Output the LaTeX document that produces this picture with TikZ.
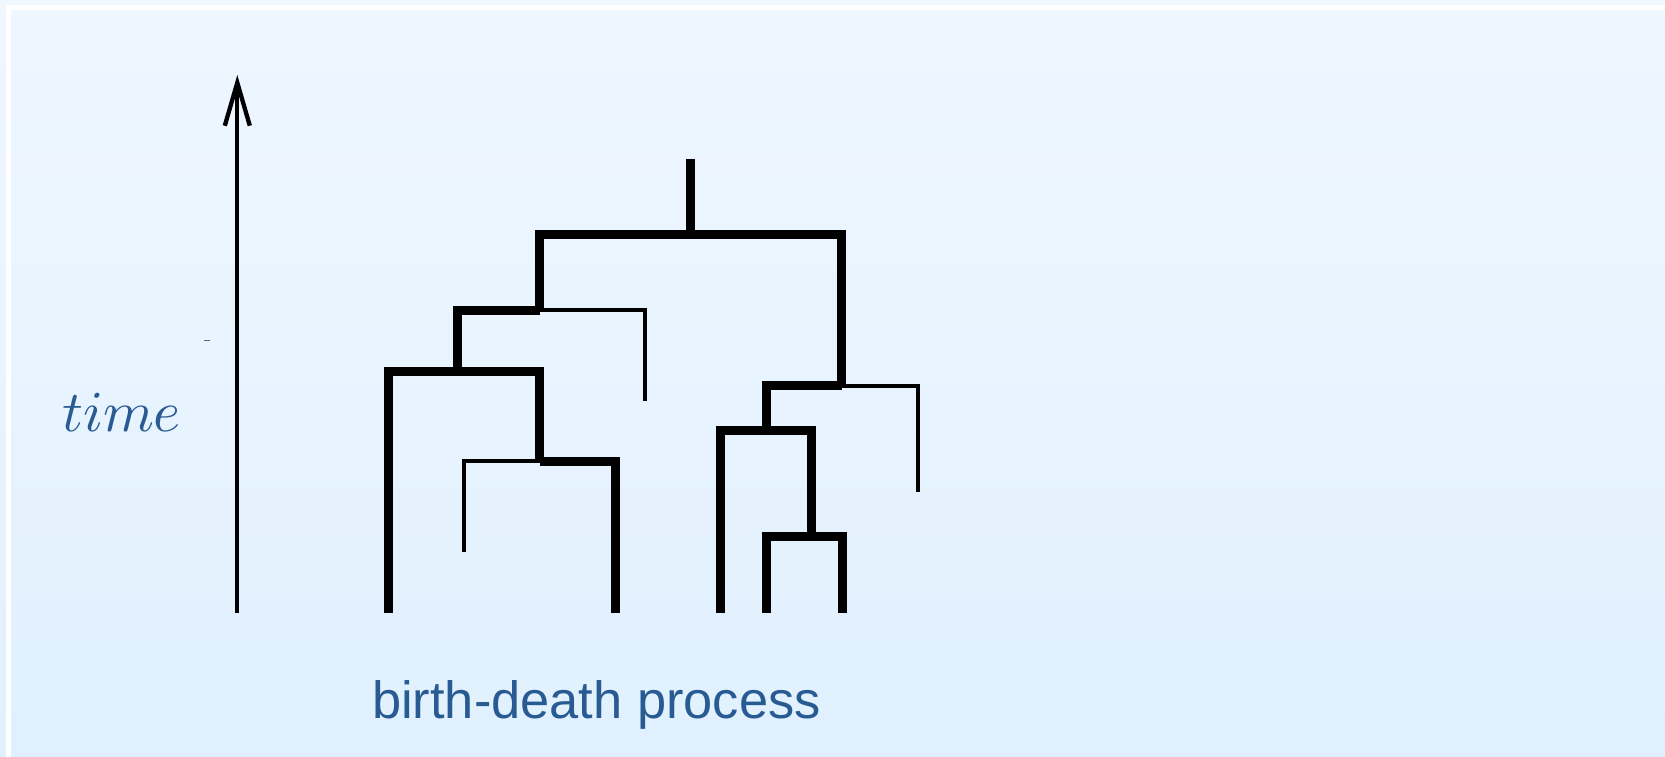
\documentclass[tikz,border=0pt]{standalone}
\usepackage{fontspec}
\setsansfont{Liberation Sans}
\usetikzlibrary{arrows.meta}
\definecolor{bgtop}{RGB}{239,247,255}
\definecolor{bgbot}{RGB}{224,240,254}
\definecolor{labelblue}{RGB}{41,91,147}
\begin{document}
\begin{tikzpicture}[x=1bp,y=-1bp,
  branch/.style={line width=9bp, line join=miter, line cap=butt},
  extinct/.style={line width=4bp, line join=miter, line cap=butt},
  axis/.style={line width=4.3bp, -{Straight Barb[length=43bp,width=25bp,sharp]}},
  lbl/.style={text=labelblue, inner sep=0pt, anchor=base west}]
% canvas, soft gradient and white frame edges
\useasboundingbox (0,0) rectangle (1665,757);
\shade[top color=bgtop, bottom color=bgbot] (-10,-10) rectangle (1675,767);
\draw[white, line width=5bp] (8.5,770) -- (8.5,7.5) -- (1680,7.5);

% time axis
\coordinate (tbase) at (237.3,613);
\coordinate (ttip) at (237.3,75);
\draw[axis] (tbase) -- (ttip);
\draw[black!60, line width=1bp] (204,340.7) -- (209.5,340.7);
\node[lbl, scale=5.82] (timelbl) at (61,431.7) {$time$};

% tree: split points, surviving leaves, extinct tips
\coordinate (root) at (690.5,159);
\coordinate (s0) at (690.5,234.5);
\coordinate (a) at (539.5,310);
\coordinate (b) at (457.5,371);
\coordinate (c) at (539.5,461);
\coordinate (d) at (841.5,385.5);
\coordinate (f) at (766.5,430.5);
\coordinate (g) at (811.5,536.5);
\coordinate (l1) at (388,613);
\coordinate (l2) at (615,613);
\coordinate (l3) at (720.5,613);
\coordinate (l4) at (766,613);
\coordinate (l5) at (842,613);
\coordinate (e1) at (645,401);
\coordinate (e2) at (464,552);
\coordinate (e3) at (917.5,492);

\draw[branch] (root) -- (s0);
\draw[branch] (s0) -| (a);
\draw[branch] (s0) -| (d);
\draw[branch] (a) -| (b);
\draw[extinct] (a) -| (e1);
\draw[branch] (b) -| (l1);
\draw[branch] (b) -| (c);
\draw[extinct] (c) -| (e2);
\draw[branch] (c) -| (l2);
\draw[branch] (d) -| (f);
\draw[extinct] (d) -| (e3);
\draw[branch] (f) -| (l3);
\draw[branch] (f) -| (g);
\draw[branch] (g) -| (l4);
\draw[branch] (g) -| (l5);

\node[lbl, font=\sffamily\fontsize{52.6}{60}\selectfont] (bdlbl) at (372,718.3) {birth-death process};
\end{tikzpicture}
\end{document}
